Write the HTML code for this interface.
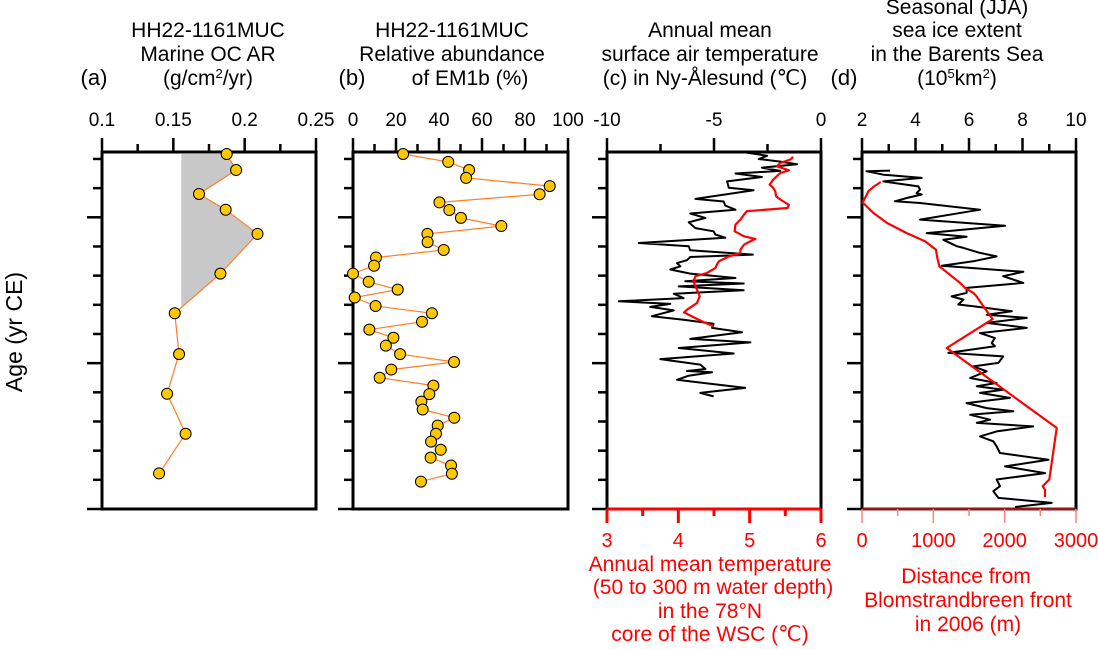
<!DOCTYPE html>
<html><head><meta charset="utf-8"><style>
html,body{margin:0;padding:0;background:#fff;}
svg{display:block;font-family:"Liberation Sans",Arial,sans-serif;}
</style></head><body>
<svg id="chart" width="1098" height="649" viewBox="0 0 1098 649">
<text transform="translate(22,332) rotate(-90)" text-anchor="middle" font-size="23">Age (yr CE)</text>
<g font-size="21" text-anchor="middle">
<text x="208" y="37">HH22-1161MUC</text><text x="208" y="61">Marine OC AR</text><text x="208" y="85">(g/cm<tspan font-size="13" dy="-7">2</tspan><tspan dy="7">/yr)</tspan></text>
<text x="94" y="85" font-size="22">(a)</text></g>
<g font-size="21" text-anchor="middle">
<text x="452" y="37">HH22-1161MUC</text><text x="452" y="61">Relative abundance</text><text x="470" y="85">of EM1b (%)</text>
<text x="352" y="85" font-size="22">(b)</text></g>
<g font-size="21" text-anchor="middle">
<text x="710" y="37">Annual mean</text><text x="710" y="61">surface air temperature</text><text x="705" y="85">(c) in Ny-Ålesund (℃)</text></g>
<g font-size="21" text-anchor="middle">
<text x="957" y="14">Seasonal (JJA)</text><text x="957" y="37">sea ice extent</text><text x="957" y="61">in the Barents Sea</text><text x="957" y="85">(10<tspan font-size="13" dy="-7">5</tspan><tspan dy="7">km</tspan><tspan font-size="13" dy="-7">2</tspan><tspan dy="7">)</tspan></text>
<text x="844" y="85" font-size="22">(d)</text></g>
<g font-size="21" text-anchor="middle" fill="#ff0000">
<text x="710" y="571">Annual mean temperature</text><text x="713" y="594">(50 to 300 m water depth)</text><text x="710" y="618">in the 78°N</text><text x="710" y="641">core of the WSC (℃)</text></g>
<g font-size="21" text-anchor="middle" fill="#ff0000">
<text x="966" y="583">Distance from</text><text x="968" y="607">Blomstrandbreen front</text><text x="968" y="631">in 2006 (m)</text></g>
<g id="plots"></g>
</svg>
<script>
// Panel (a) Marine OC AR
const aYears=[2021.7,2016.2,2008,2002.6,1994.3,1980.7,1967.1,1953.1,1939.5,1925.8,1912.2];
const aValues=[0.1874,0.194,0.168,0.1867,0.209,0.183,0.151,0.154,0.1456,0.1586,0.140];
const aBaseline=0.1556;
const aTickLabels=["0.1","0.15","0.2","0.25"];
// Panel (b) EM1b
const bYears=[2021.7,2019,2016.2,2013.5,2010.7,2007.9,2005.1,2002.5,1999.8,1997,1994.3,1991.5,1988.8,1986.2,1983.4,1980.7,1977.9,1975.2,1972.5,1969.6,1967.1,1964.2,1961.5,1958.7,1956,1953.1,1950.4,1947.8,1945,1942.3,1939.4,1936.8,1934.1,1931.3,1928.6,1925.8,1923.1,1920.3,1917.6,1914.9,1912.1,1909.4];
const bValues=[23.3,44.3,54,52.6,91.5,86.8,40.2,44.8,50.2,69,34.6,34.7,42.2,10.7,9.8,0,7.3,20.8,0.8,10.5,36.7,32.1,7.6,18.8,15.3,21.9,47,17.8,12.4,37.4,35.5,31.8,32.4,47.1,39.4,38.6,36.3,40.8,36.1,45.6,46,31.6];
const bTickLabels=["0","20","40","60","80","100"];
// Panel (c) air temperature & WSC temperature
const cAirYears=[2022.6,2021.1,2020,2019.1,2018.2,2017,2015.9,2015,2013.8,2012.3,2010.1,2009.3,2006.3,2005.4,2004,2002.6,2001.3,1999.8,1998.3,1996.3,1995.2,1994.1,1993,1991.2,1990.1,1988.7,1987.2,1986.4,1985.3,1984.3,1983.2,1982.1,1980.7,1979.2,1978.1,1977.3,1976.3,1975,1973.8,1972.3,1971.2,1970.3,1969.3,1968.1,1966.1,1964.9,1963.5,1962.1,1960.6,1958.3,1957.1,1955.2,1953.3,1951.4,1949.5,1948,1947.3,1946.9,1945.7,1944.3,1941.5,1939.8,1938.6];
const cAirValues=[-3.85,-2.52,-2.91,-1.9,-1.12,-2.76,-1.9,-4,-2.76,-4.39,-4.31,-3.15,-5.87,-4.55,-4.47,-4,-6.11,-5.4,-6.18,-5.87,-5.02,-4.94,-4.47,-8.52,-6.18,-6.11,-3.18,-6.11,-6.26,-6.73,-6.57,-7.04,-6.11,-4,-6.34,-3.61,-6.65,-3.61,-6.88,-6.42,-9.45,-7.04,-7.98,-6.88,-7.9,-6.42,-5.02,-5.09,-3.69,-6.11,-3.3,-6.65,-4.08,-7.51,-5.64,-5.4,-6.26,-5.09,-6.18,-6.73,-3.54,-5.64,-5.02];
const cWscYears=[2020.7,2019.8,2018.6,2017.5,2016.1,2015.2,2012.9,2011.2,2010.1,2008.9,2007.2,2006.1,2004.3,2003.2,2002.1,2000.9,1999.2,1997.5,1995.2,1993.5,1992.6,1991.8,1990.6,1988.9,1987.8,1986.6,1984.9,1983.8,1982.6,1980.9,1979.8,1978.1,1975.2,1972.9,1970.6,1968.3,1967.4,1965.8,1964,1962.6];
const cWscValues=[5.61,5.57,5.43,5.38,5.55,5.43,5.33,5.28,5.33,5.36,5.37,5.43,5.55,5.53,4.96,4.92,4.87,4.8,4.79,4.92,5.08,5.01,4.92,4.87,4.87,4.71,4.57,4.54,4.52,4.4,4.24,4.21,4.26,4.3,4.26,4.12,4.08,4.21,4.36,4.5];
const cTopLabels=["-10","-5","0"];
const cBottomLabels=["3","4","5","6"];
// Panel (d) sea ice & glacier front distance
const dIceYears=[2016,2015.8,2014.6,2013.5,2012.3,2010.6,2009.5,2008.3,2007.8,2006.6,2005.5,2004.9,2002.6,1999.2,1997.1,1994.6,1993.3,1992.3,1990.1,1989.5,1987.8,1986.6,1984.9,1983.4,1981.3,1979.8,1977.5,1975.8,1974.1,1972.9,1971.8,1970.1,1969.5,1967.8,1966.6,1965.5,1963.8,1962.1,1960.3,1958.6,1956.9,1955.8,1953.5,1952.3,1950.1,1948.9,1947.2,1944.9,1943.2,1942.1,1940.9,1939.8,1938.1,1936.3,1934.6,1933.5,1932.3,1930.6,1929.5,1928.3,1926.6,1924.9,1923.2,1921.5,1919.2,1916.9,1914.6,1912.3,1910.1,1907.8,1906.1,1903.8,1902.1,1900.7];
const dIceValues=[3.05,2.17,2.8,4.23,2.8,4.11,4.17,4.04,4.23,3.67,3.23,4.17,6.41,4.17,7.35,4.42,5.91,5.04,5.54,5.79,6.41,7.03,6.16,4.98,8.03,7.28,8.03,5.91,5.91,5.35,5.79,5.6,6.16,7.6,6.66,8.16,6.66,8.16,6.41,6.97,6.85,6.97,5.23,7.28,7.1,6.16,6.66,6.04,7.03,6.29,7.28,6.41,7.53,5.91,6.66,7.66,6.04,6.79,6.29,8.4,7.03,6.41,6.91,7.03,7.16,8.97,7.35,8.84,7.03,7.16,6.91,7.1,9.09,7.72];
const dDistYears=[2012.1,2010.4,2008.9,2007.2,2005.1,2001.5,1998.1,1994.6,1991.8,1988.9,1986.1,1983.2,1980.3,1977.5,1975.8,1974.1,1972.9,1969.5,1965.1,1955.2,1927.8,1910.1,1907.8,1906.6,1904.1];
const dDistValues=[262,159,89,56,9,159,346,626,883,1037,1056,1084,1234,1374,1444,1561,1607,1701,1832,1187,2729,2626,2533,2565,2565];
const dTopLabels=["2","4","6","8","10"];
const dBottomLabels=["0","1000","2000","3000"];
const yearTicks=[1900,1910,1920,1930,1940,1950,1960,1970,1980,1990,2000,2010,2020];

const NS="http://www.w3.org/2000/svg";
const root=document.getElementById('plots');
const TOP=152,BOT=509;
function yS(yr){return BOT-(yr-1900)*2.917;}
function lin(d0,d1,r0,r1){return v=>r0+(v-d0)/(d1-d0)*(r1-r0);}
function mk(tag,attrs,parent){const e=document.createElementNS(NS,tag);for(const k in attrs)e.setAttribute(k,attrs[k]);(parent||root).appendChild(e);return e;}
function pathD(xs,ys,xf){return xs.map((v,i)=>(i?'L':'M')+xf(v).toFixed(1)+','+yS(ys[i]).toFixed(1)).join('');}

function frame(name,x0,x1,d0,d1,step,labels,labStep){
  const g=mk('g',{});
  
  
  const xf=lin(d0,d1,x0,x1);
  const n=Math.round((d1-d0)/step);
  for(let i=0;i<=n;i++){const v=d0+i*step;const major=Math.abs(((v-d0)/labStep)-Math.round((v-d0)/labStep))<1e-6;
    const t=mk('line',{x1:xf(v),x2:xf(v),y1:TOP,y2:TOP-(major?14:8),stroke:'#000','stroke-width':2.5},g);
    }
  labels.forEach((l,i)=>{const tx=mk('text',{x:xf(d0+i*labStep),y:126,'text-anchor':'middle','font-size':19},g);tx.textContent=l;
    });
  yearTicks.forEach(yr=>{const major=yr%50===0;const t=mk('line',{x1:x0-(major?15:9),x2:x0,y1:yS(yr),y2:yS(yr),stroke:'#000','stroke-width':2.5},g);
    });
  const b=mk('rect',{x:x0,y:TOP,width:x1-x0,height:BOT-TOP,fill:'none',stroke:'#000','stroke-width':3},g);
  
  return xf;
}
function bottomAxis(name,x0,x1,d0,d1,step,labels,labStep,color,tickColor,lw){
  const g=mk('g',{});
  
  
  const xf=lin(d0,d1,x0,x1);
  mk('line',{x1:x0,x2:x1,y1:BOT,y2:BOT,stroke:color,'stroke-width':3},g);
  const n=Math.round((d1-d0)/step);
  for(let i=0;i<=n;i++){const v=d0+i*step;const major=Math.abs(((v-d0)/labStep)-Math.round((v-d0)/labStep))<1e-6;
    const t=mk('line',{x1:xf(v),x2:xf(v),y1:BOT,y2:BOT+(major?14:7),stroke:tickColor,'stroke-width':lw},g);
    }
  labels.forEach((l,i)=>{const tx=mk('text',{x:xf(d0+i*labStep),y:547,'text-anchor':'middle','font-size':20,fill:'#ff0000'},g);tx.textContent=l;
    });
  return xf;
}
function markers(name,xs,ys,xf){
  xs.forEach((v,i)=>{const c=mk('circle',{cx:xf(v),cy:yS(ys[i]),r:5.5,fill:'#ffc800',stroke:'#000','stroke-width':1});
    });
}

// Panel a
const xa=frame('panel-a',102,316,0.1,0.25,0.025,aTickLabels,0.05);
(function(){
  let pts=[[aBaseline,aYears[0]]];
  for(let i=0;i<aValues.length;i++){
    pts.push([aValues[i],aYears[i]]);
    if(i+1<aValues.length && aValues[i+1]<aBaseline){
      const f=(aValues[i]-aBaseline)/(aValues[i]-aValues[i+1]);
      pts.push([aBaseline,aYears[i]+(aYears[i+1]-aYears[i])*f]);break;}
  }
  const sh=mk('polygon',{points:pts.map(p=>xa(p[0]).toFixed(1)+','+yS(p[1]).toFixed(1)).join(' '),fill:'#c8c8c8',stroke:'none'});
  
  
})();
const la=mk('path',{d:pathD(aValues,aYears,xa),fill:'none',stroke:'#ff7f27','stroke-width':1.2});


markers('panel-a',aValues,aYears,xa);

// Panel b
const xb=frame('panel-b',353,568,0,100,10,bTickLabels,20);
const lb=mk('path',{d:pathD(bValues,bYears,xb),fill:'none',stroke:'#ff7f27','stroke-width':1.2});


markers('panel-b',bValues,bYears,xb);

// Panel c
const xc=frame('panel-c',607,821,-10,0,2.5,cTopLabels,5);
const xcb=bottomAxis('panel-c',607,821,3,6,0.5,cBottomLabels,1,'#ff0000','#ff0000',3);
const lc1=mk('path',{d:pathD(cAirValues,cAirYears,xc),fill:'none',stroke:'#000','stroke-width':2,'stroke-linejoin':'round'});


const lc2=mk('path',{d:pathD(cWscValues,cWscYears,xcb),fill:'none',stroke:'#ff0000','stroke-width':2.2,'stroke-linejoin':'round'});



// Panel d
const xd=frame('panel-d',862,1076,2,10,1,dTopLabels,2);
const xdb=bottomAxis('panel-d',862,1076,0,3000,500,dBottomLabels,1000,'#8b1a1a','#ff8080',1.5);
const ld1=mk('path',{d:pathD(dIceValues,dIceYears,xd),fill:'none',stroke:'#000','stroke-width':2,'stroke-linejoin':'round'});


const ld2=mk('path',{d:pathD(dDistValues,dDistYears,xdb),fill:'none',stroke:'#ff0000','stroke-width':2.2,'stroke-linejoin':'round'});


</script>
</body></html>
